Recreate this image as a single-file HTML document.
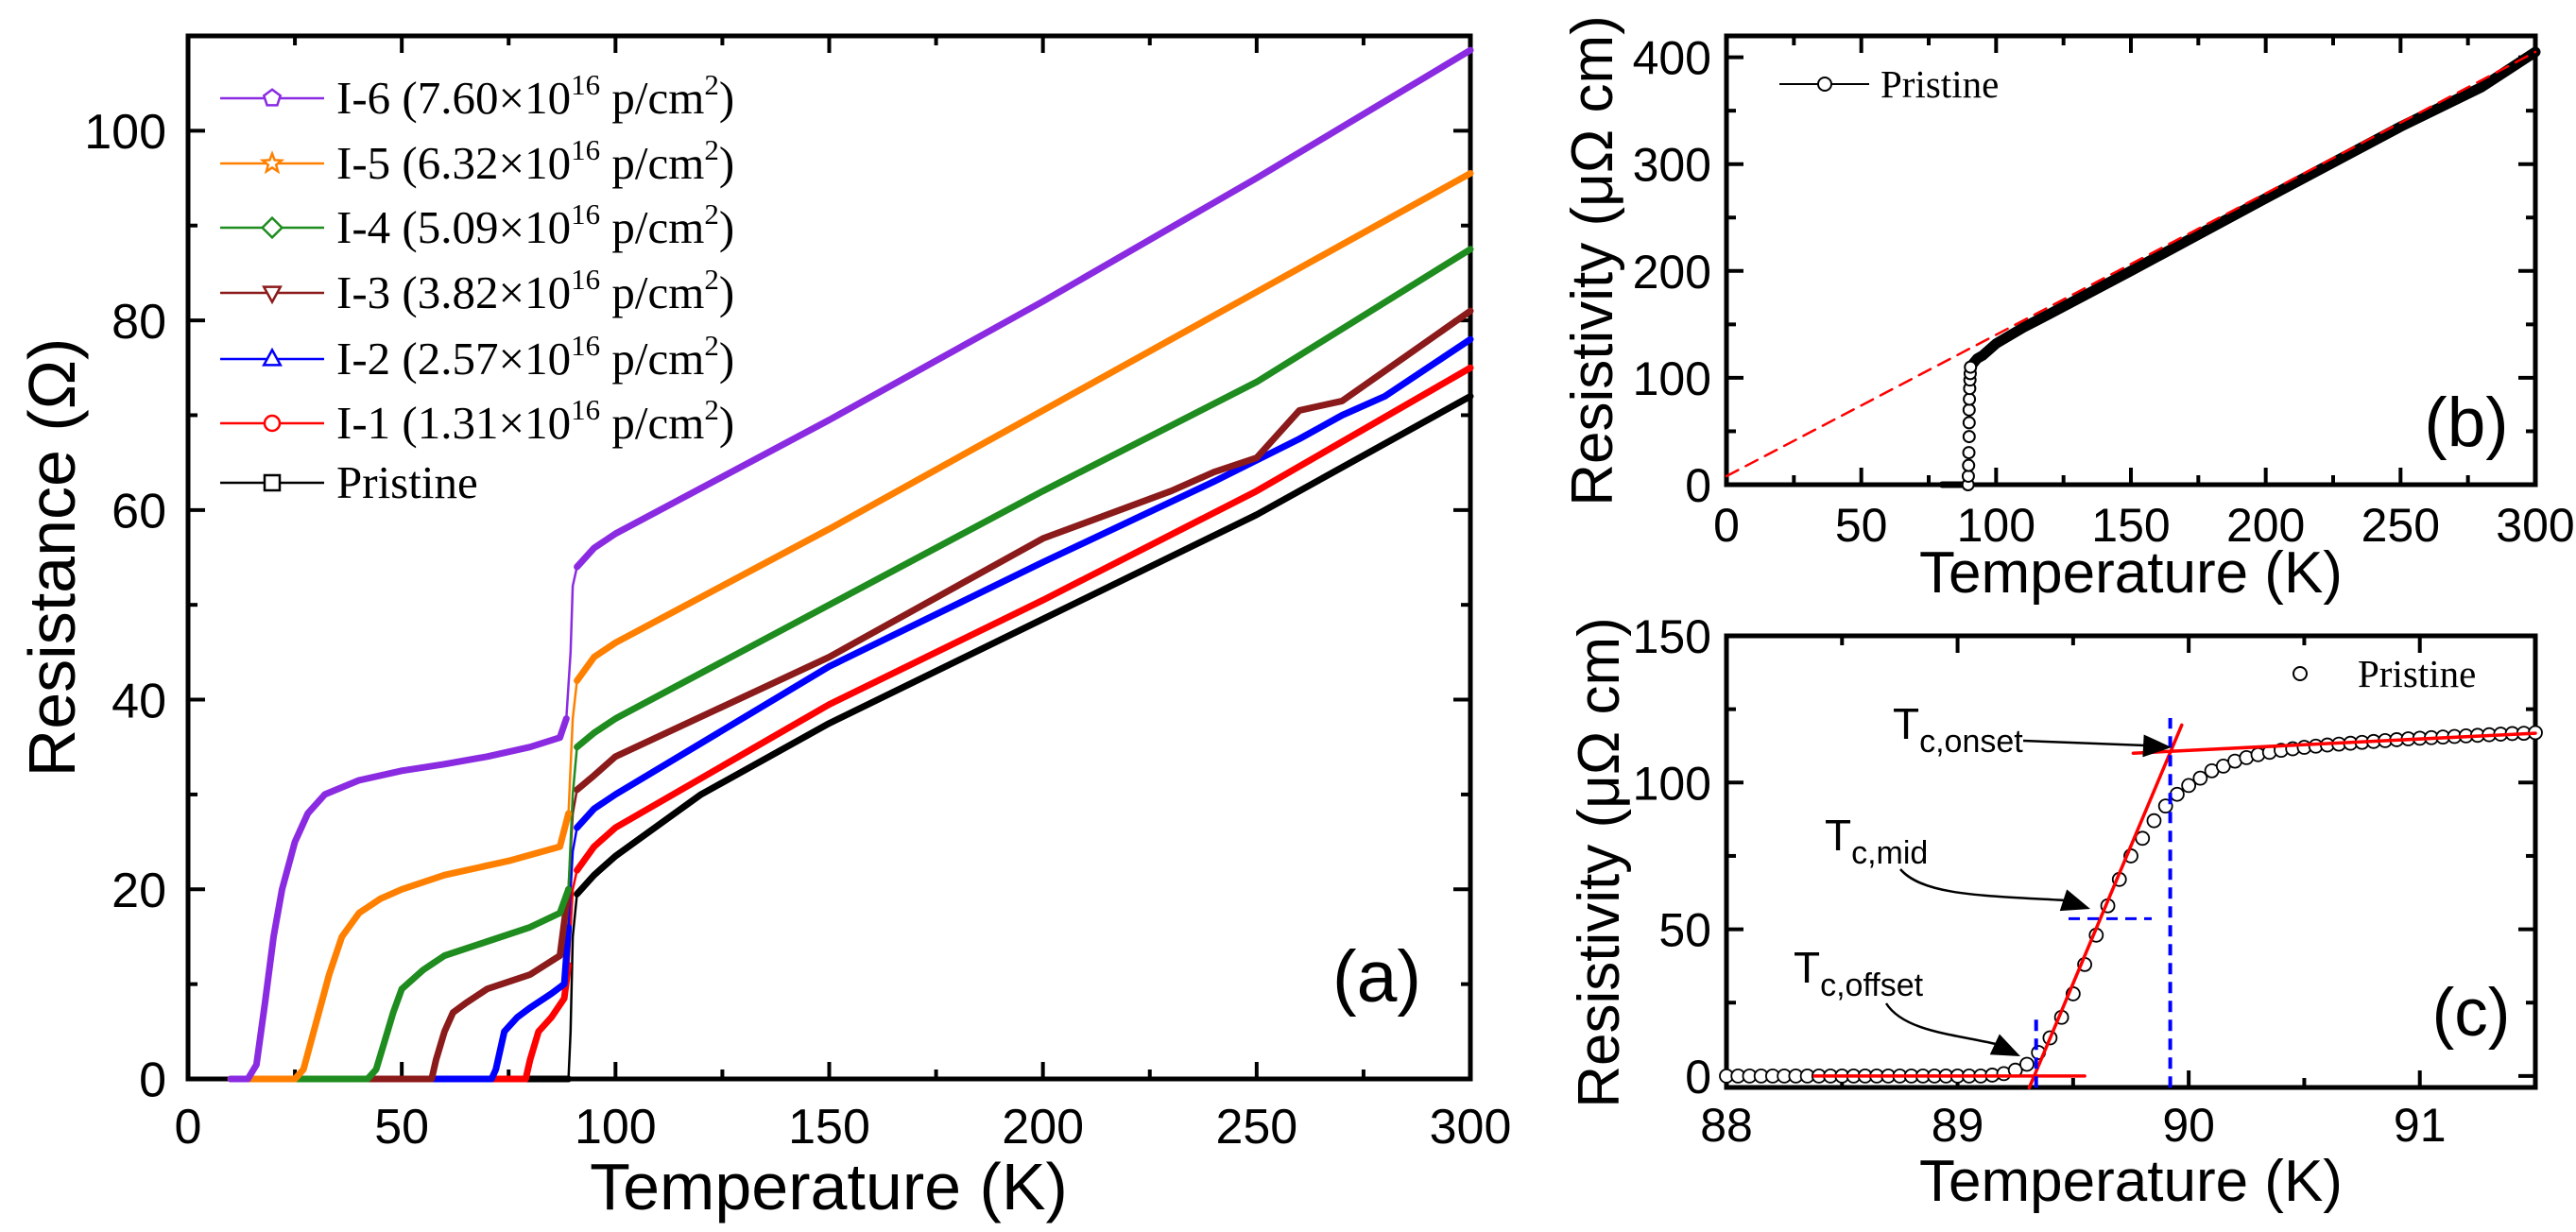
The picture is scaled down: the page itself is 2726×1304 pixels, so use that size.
<!DOCTYPE html>
<html><head><meta charset="utf-8">
<style>
html,body{margin:0;padding:0;background:#fff;}
svg{display:block;}
</style></head>
<body>
<svg id="fig" xmlns="http://www.w3.org/2000/svg" width="2726" height="1304" viewBox="0 0 2726 1304"></svg>
<script>
// ---------- Panel (a) data ----------
const tPristine=[10,80,88,89,89.5,90,91,95,100,120,150,200,250,300];
const rPristine=[0,0,0,0,5,15,19.5,21.5,23.5,30,37.5,48.5,59.5,72];
const tI1=[10,79,80,82,85,88,89,90,91,95,100,150,200,250,300];
const rI1=[0,0,2,5,6.5,8.5,12,20,22,24.5,26.5,39.5,50.5,62,75];
const tI2=[10,71,72,74,77,80,85,88,89,90,91,95,100,150,200,240,260,270,280,300];
const rI2=[0,0,1,5,6.5,7.5,9,10,16,24,26.5,28.5,30,43.5,54.5,63,67.5,70,72,78];
const tI3=[10,57,58,60,62,65,70,80,87,89,90,91,95,100,150,200,230,240,250,260,270,300];
const rI3=[0,0,2,5,7,8,9.5,11,13,20,28,30.5,32,34,44.5,57,62,64,65.5,70.5,71.5,81];
const tI4=[10,42,44,46,48,50,55,60,70,80,87,89,90,91,95,100,150,200,250,300];
const rI4=[0,0,1,4,7,9.5,11.5,13,14.5,16,17.5,20,30,35,36.5,38,50,62,73.5,87.5];
const tI5=[10,25,27,30,33,36,40,45,50,60,75,87,89,90,91,95,100,150,200,250,300];
const rI5=[0,0,1,6,11,15,17.5,19,20,21.5,23,24.5,28,38,42,44.5,46,58,70.5,83,95.5];
const tI6=[10,14,16,18,20,22,25,28,32,40,50,60,70,80,87,88.5,89.5,90,91,95,100,150,200,250,300];
const rI6=[0,0,1.5,8,15,20,25,28,30,31.5,32.5,33.2,34,35,36,38,45,52,54,56,57.5,69.5,82,95,108.5];
const aXTicks=[0,50,100,150,200,250,300];
const aYTicks=[0,20,40,60,80,100];
// ---------- Panel (b) data ----------
const tB=[80,85,88,89,89.5,90,90.5,91,93,95,100,110,120,150,200,250,280,300];
const rB=[0,0,0,5,40,80,105,112,118,121,132,147,160,200,268,335,372,405];
const tBTrans=[89.6,89.7,89.8,89.9,90,90,90,90.1,90.2,90.3,90.4,90.5];
const rBTrans=[0,8,18,30,45,58,70,80,90,98,104,110];
const fitBT=[0,300];
const fitBR=[8,405];
const bXTicks=[0,50,100,150,200,250,300];
const bYTicks=[0,100,200,300,400];
// ---------- Panel (c) data ----------
const tC=[88.00,88.05,88.10,88.15,88.20,88.25,88.30,88.35,88.40,88.45,88.50,88.55,88.60,88.65,88.70,88.75,88.80,88.85,88.90,88.95,89.00,89.05,89.10,89.15,89.20,
89.25,89.30,89.35,89.40,89.45,89.50,89.55,89.60,89.65,89.70,89.75,89.80,89.85,89.90,89.95,90.00,90.05,90.10,90.15,90.20,90.25,90.30,90.35,90.40,90.45,90.50,
90.55,90.60,90.65,90.70,90.75,90.80,90.85,90.90,90.95,91.00,91.05,91.10,91.15,91.20,91.25,91.30,91.35,91.40,91.45,91.50];
const rC=[0,0,0,0,0,0,0,0,0,0,0,0,0,0,0,0,0,0,0,0,0,0,0,0.3,0.8,
2,4,8,13,20,28,38,48,58,67,75,81,87,92,96,99,101.5,104,105.6,107.3,108.5,109.5,110.3,111,111.5,112,
112.4,112.8,113.1,113.4,113.7,114,114.3,114.6,114.9,115.1,115.3,115.5,115.7,115.9,116.1,116.3,116.5,116.7,116.8,117];
const fitLowT=[88.38,89.55], fitLowR=[0,0];
const fitSteepT=[89.31,89.97], fitSteepR=[-4,119.6];
const fitHighT=[89.76,91.5], fitHighR=[110,116.8];
const cXTicks=[88,89,90,91];
const cYTicks=[0,50,100,150];

const NS='http://www.w3.org/2000/svg';
const svg=document.getElementById('fig');
function mk(tag,attrs,parent){const e=document.createElementNS(NS,tag);for(const k in attrs)e.setAttribute(k,attrs[k]);(parent||svg).appendChild(e);return e;}

function makeAxes(p){
  p.sx=v=>p.x0+(v-p.xmin)/(p.xmax-p.xmin)*(p.x1-p.x0);
  p.sy=v=>p.yb-(v-p.ymin)/(p.ymax-p.ymin)*(p.yb-p.yt);
  return p;
}
const A=makeAxes({x0:199,x1:1556,yt:38,yb:1142,xmin:0,xmax:300,ymin:0,ymax:110});
const B=makeAxes({x0:1827,x1:2683,yt:38,yb:513,xmin:0,xmax:300,ymin:0,ymax:420});
const C=makeAxes({x0:1827,x1:2683,yt:673,yb:1151,xmin:88,xmax:91.5,ymin:-3.9,ymax:150});

function drawFrame(p,name,xt,yt,xMinorStep,yMinorStep,fs,xLabY,yLabX){
  const g=mk('g',{});
  
  
  const maj=18,mnr=10;
  const xs=[];for(let v=p.xmin;v<=p.xmax+1e-9;v+=xMinorStep)xs.push(+v.toFixed(4));
  xs.forEach(v=>{
    const isMaj=xt.some(t=>Math.abs(t-v)<1e-6);const L=isMaj?maj:mnr;const X=p.sx(v);
    const t1=mk('line',{x1:X,y1:p.yb,x2:X,y2:p.yb-L,stroke:'#000','stroke-width':4},g);
    
    
    const t2=mk('line',{x1:X,y1:p.yt,x2:X,y2:p.yt+L,stroke:'#000','stroke-width':4},g);
    
    
  });
  const ys=[];const y0=Math.ceil(p.ymin/yMinorStep)*yMinorStep;for(let v=y0;v<=p.ymax+1e-9;v+=yMinorStep)ys.push(+v.toFixed(4));
  ys.forEach(v=>{
    const isMaj=yt.some(t=>Math.abs(t-v)<1e-6);const L=isMaj?maj:mnr;const Y=p.sy(v);
    const t1=mk('line',{x1:p.x0,y1:Y,x2:p.x0+L,y2:Y,stroke:'#000','stroke-width':4},g);
    
    
    const t2=mk('line',{x1:p.x1,y1:Y,x2:p.x1-L,y2:Y,stroke:'#000','stroke-width':4},g);
    
    
  });
  xt.forEach(v=>{
    const t=mk('text',{x:p.sx(v),y:xLabY,'text-anchor':'middle','font-size':fs,'font-family':'Liberation Sans, Arial, sans-serif'},g);
    t.textContent=String(v);
    
    
  });
  yt.forEach(v=>{
    const t=mk('text',{x:yLabX,y:p.sy(v)+fs*0.36,'text-anchor':'end','font-size':fs,'font-family':'Liberation Sans, Arial, sans-serif'},g);
    t.textContent=String(v);
    
    
  });
  const r=mk('rect',{x:p.x0,y:p.yt,width:p.x1-p.x0,height:p.yb-p.yt,fill:'none',stroke:'#000','stroke-width':5},g);
  
  
}

function series(p,T,R,color,name,w){
  const pts=T.map((t,i)=>p.sx(t).toFixed(1)+','+p.sy(R[i]).toFixed(1)).join(' ');
  const pl=mk('polyline',{points:pts,fill:'none',stroke:color,'stroke-width':w,'stroke-linejoin':'round','stroke-linecap':'round'});
  
  
  return pl;
}
// panel (a) series: thick normally, thin on the vertical superconducting jump
function seriesA(p,T,R,color,name){
  const g=mk('g',{});
  
  
  let thick=[],thin=[];
  for(let i=0;i<T.length-1;i++){
    const seg=`M${p.sx(T[i]).toFixed(1)},${p.sy(R[i]).toFixed(1)} L${p.sx(T[i+1]).toFixed(1)},${p.sy(R[i+1]).toFixed(1)}`;
    if(T[i]>=88.4 && T[i+1]<=91.01) thin.push(seg); else thick.push(seg);
  }
  const a=mk('path',{d:thick.join(' '),fill:'none',stroke:color,'stroke-width':7,'stroke-linejoin':'round','stroke-linecap':'round'},g);
  
  
  const b=mk('path',{d:thin.join(' '),fill:'none',stroke:color,'stroke-width':2.5,'stroke-linecap':'round'},g);
  
  
}
function txt(x,y,s,fs,attrs,name,family){
  const t=mk('text',Object.assign({x:x,y:y,'font-size':fs,'font-family':family||'Liberation Sans, Arial, sans-serif'},attrs||{}));
  t.textContent=s;
  
  
  return t;
}

// ===== Panel (a) =====
drawFrame(A,'panel-a',aXTicks,aYTicks,25,10,52,1210,176);
const aSeries=[
 [tPristine,rPristine,'#000000','series-pristine','square','Pristine',null],
 [tI1,rI1,'#ff0000','series-i1','circle','I-1 (1.31×10','16'],
 [tI2,rI2,'#0000ff','series-i2','triangle-up','I-2 (2.57×10','16'],
 [tI3,rI3,'#8b1a1a','series-i3','triangle-down','I-3 (3.82×10','16'],
 [tI4,rI4,'#1e8c1e','series-i4','diamond','I-4 (5.09×10','16'],
 [tI5,rI5,'#ff8000','series-i5','star','I-5 (6.32×10','16'],
 [tI6,rI6,'#8a2be2','series-i6','pentagon','I-6 (7.60×10','16']
];
aSeries.forEach(s=>seriesA(A,s[0],s[1],s[2],s[3]));

function marker(shape,cx,cy,color,sz){
  let e;
  if(shape==='square')e=mk('rect',{x:cx-sz,y:cy-sz,width:2*sz,height:2*sz});
  else if(shape==='circle')e=mk('circle',{cx:cx,cy:cy,r:sz});
  else{
    let pts=[];
    if(shape==='triangle-up')pts=[[0,-1.2],[1.1,0.8],[-1.1,0.8]];
    else if(shape==='triangle-down')pts=[[0,1.2],[1.1,-0.8],[-1.1,-0.8]];
    else if(shape==='diamond')pts=[[0,-1.3],[1.3,0],[0,1.3],[-1.3,0]];
    else if(shape==='pentagon'){for(let k=0;k<5;k++){const a=-Math.PI/2+k*2*Math.PI/5;pts.push([Math.cos(a)*1.15,Math.sin(a)*1.15]);}}
    else if(shape==='star'){for(let k=0;k<10;k++){const a=-Math.PI/2+k*Math.PI/5;const rr=k%2?0.55:1.3;pts.push([Math.cos(a)*rr,Math.sin(a)*rr]);}}
    e=mk('polygon',{points:pts.map(q=>(cx+q[0]*sz).toFixed(1)+','+(cy+q[1]*sz).toFixed(1)).join(' ')});
  }
  e.setAttribute('fill','#fff');e.setAttribute('stroke',color);e.setAttribute('stroke-width',2.5);
  return e;
}
const legRows=[511,448,380,310,241,173,104];
aSeries.forEach((s,i)=>{
  const y=legRows[i];
  const ln=mk('line',{x1:233,y1:y,x2:343,y2:y,stroke:s[2],'stroke-width':2.5});
  
  
  const mkr=marker(s[4],288,y,s[2],8);
  
  
  const t=mk('text',{x:356,y:y+16,'font-size':49,'font-family':'Liberation Serif, Times New Roman, serif'});
  
  
  if(s[6]){
    t.appendChild(document.createTextNode(s[5]));
    const sup=mk('tspan',{'font-size':31,dy:-20},t);sup.textContent=s[6];
    const r2=mk('tspan',{dy:20},t);r2.textContent=' p/cm';
    const sup2=mk('tspan',{'font-size':31,dy:-20},t);sup2.textContent='2';
    const r3=mk('tspan',{dy:20},t);r3.textContent=')';
  } else t.textContent=s[5];
});
txt(1457,1060,'(a)',77,{'text-anchor':'middle'},'panel-a-label');
txt(877,1280,'Temperature (K)',70,{'text-anchor':'middle'},'panel-a-x-title');
txt(0,0,'Resistance (Ω)',70,{'text-anchor':'middle',transform:'translate(79,590) rotate(-90)'},'panel-a-y-title');

// ===== Panel (b) =====
drawFrame(B,'panel-b',bXTicks,bYTicks,25,50,50,573,1811);
series(B,[80,88],[0,0],'#000','series-b-low',7);
series(B,tB.slice(7),rB.slice(7),'#000','series-b-pristine',11);
tBTrans.forEach((t,i)=>{
  const c=mk('circle',{cx:B.sx(t),cy:B.sy(rBTrans[i]),r:6,fill:'#fff',stroke:'#000','stroke-width':2});
  
  
});
const fb=series(B,fitBT,fitBR,'#ff0000','linear-fit-b',2.5);
fb.setAttribute('stroke-dasharray','14 9');
const lbl=mk('line',{x1:1883,y1:89,x2:1978,y2:89,stroke:'#000','stroke-width':2});


const lbc=mk('circle',{cx:1931,cy:89,r:7,fill:'#fff',stroke:'#000','stroke-width':2});


txt(1990,103,'Pristine',41,{},'legend-entry-b','Liberation Serif, Times New Roman, serif');
txt(2610,472,'(b)',73,{'text-anchor':'middle'},'panel-b-label');
txt(2255,627,'Temperature (K)',62,{'text-anchor':'middle'},'panel-b-x-title');
txt(0,0,'Resistivity (μΩ cm)',62,{'text-anchor':'middle',transform:'translate(1706,276) rotate(-90)'},'panel-b-y-title');

// ===== Panel (c) =====
drawFrame(C,'panel-c',cXTicks,cYTicks,0.5,25,50,1208,1811);
tC.forEach((t,i)=>{
  const c=mk('circle',{cx:C.sx(t),cy:C.sy(rC[i]),r:7,fill:'#fff',stroke:'#000','stroke-width':1.8});
  
  
});
series(C,fitLowT,fitLowR,'#ff0000','fit-line-offset',3.5);
series(C,fitSteepT,fitSteepR,'#ff0000','fit-line-transition',3.5);
series(C,fitHighT,fitHighR,'#ff0000','fit-line-normal',3.5);
const d1=series(C,[89.92,89.92],[-4,122],'#0000ff','onset-guide',4);d1.setAttribute('stroke-dasharray','12 8');d1.setAttribute('stroke-linecap','butt');
const d2=series(C,[89.34,89.34],[-4,21],'#0000ff','offset-guide',4);d2.setAttribute('stroke-dasharray','12 8');d2.setAttribute('stroke-linecap','butt');
const d3=series(C,[89.48,89.84],[53.6,53.6],'#0000ff','mid-guide',3);d3.setAttribute('stroke-dasharray','12 8');d3.setAttribute('stroke-linecap','butt');
const lcc=mk('circle',{cx:2434,cy:713,r:7,fill:'#fff',stroke:'#000','stroke-width':2});


txt(2495,727,'Pristine',41,{},'legend-entry-c','Liberation Serif, Times New Roman, serif');
txt(2615,1096,'(c)',71,{'text-anchor':'middle'},'panel-c-label');
txt(2255,1271,'Temperature (K)',62,{'text-anchor':'middle'},'panel-c-x-title');
txt(0,0,'Resistivity (μΩ cm)',62,{'text-anchor':'middle',transform:'translate(1713,913) rotate(-90)'},'panel-c-y-title');

function annot(x,y,sub,name){
  const t=mk('text',{x:x,y:y,'font-size':46,'font-family':'Liberation Sans, Arial, sans-serif'});
  
  
  t.appendChild(document.createTextNode('T'));
  const s=mk('tspan',{'font-size':34,dy:14},t);s.textContent=sub;
}
annot(2003,782,'c,onset','tc-onset-label');
annot(1931,900,'c,mid','tc-mid-label');
annot(1898,1040,'c,offset','tc-offset-label');
function arrow(d,tip,ang,name){
  const p=mk('path',{d:d,fill:'none',stroke:'#000','stroke-width':2.5});
  
  
  const L=30,W=12;const a=ang*Math.PI/180;
  const bx=tip[0]-L*Math.cos(a),by=tip[1]-L*Math.sin(a);
  const px=-Math.sin(a)*W,py=Math.cos(a)*W;
  const h=mk('polygon',{points:`${tip[0]},${tip[1]} ${bx+px},${by+py} ${bx-px},${by-py}`,fill:'#000'});
  
  
}
arrow('M2141,784 L2270,789',[2298,791],3,'onset-arrow');
arrow('M2011,920 C2035,948 2100,948 2185,953',[2212,962],18,'mid-arrow');
arrow('M1996,1062 C2015,1092 2070,1095 2112,1105',[2138,1118],25,'offset-arrow');
</script>
</body></html>
